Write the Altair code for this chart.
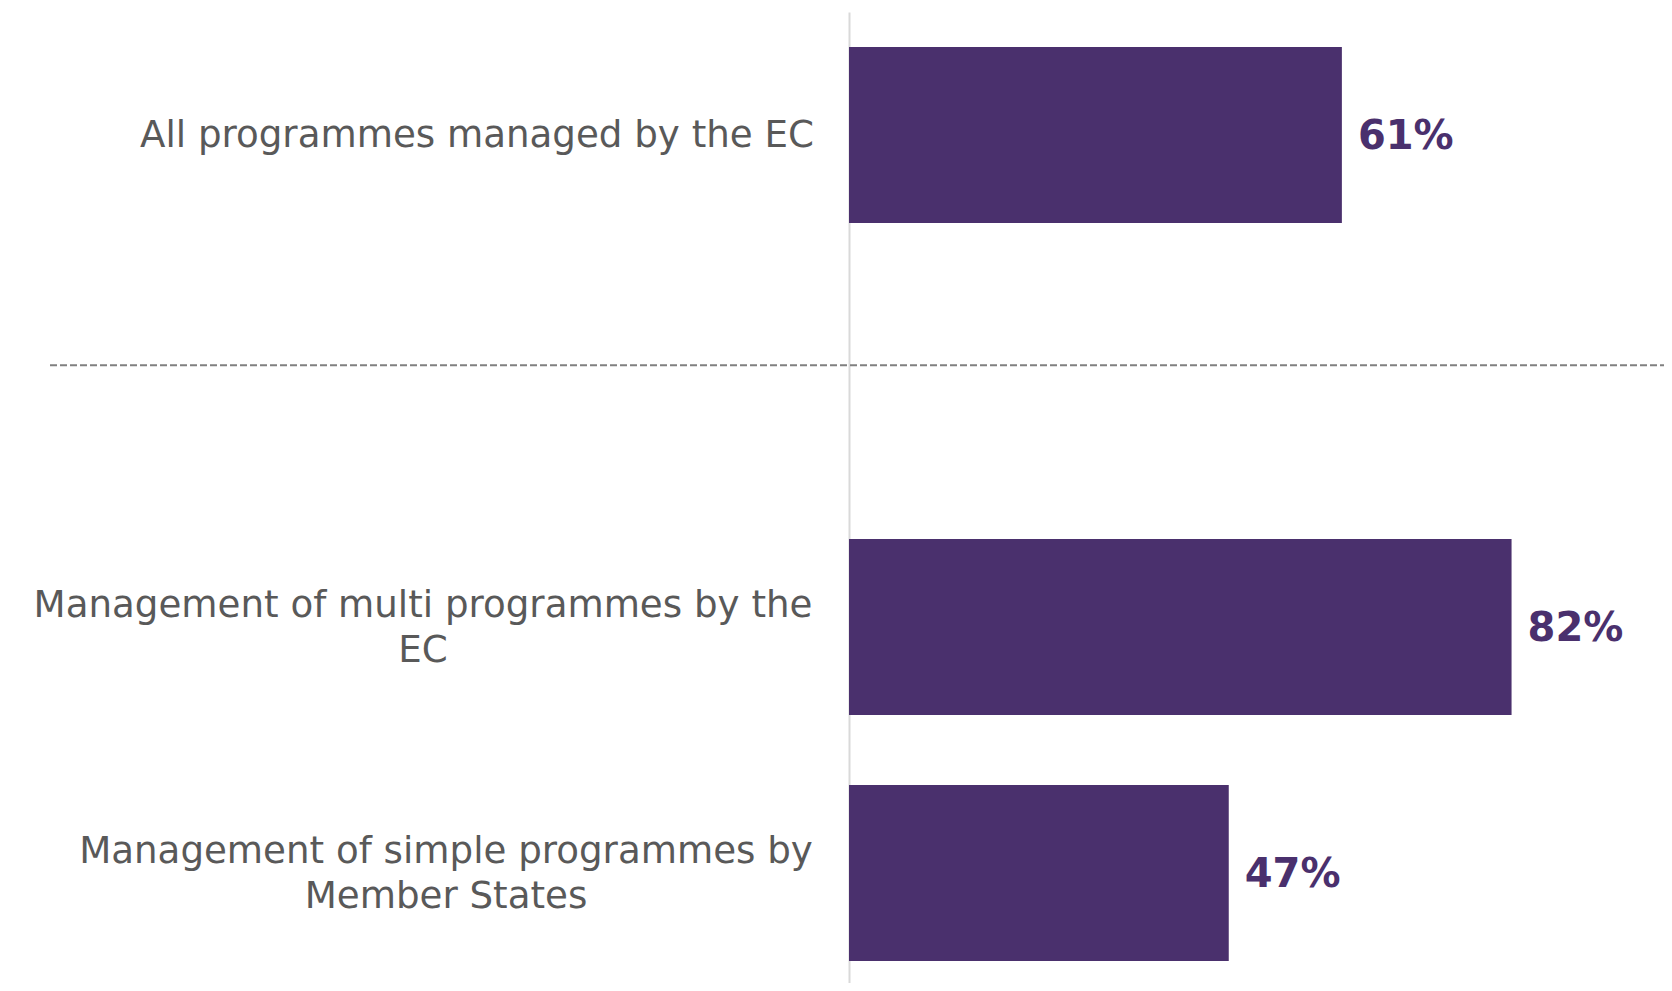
import altair as alt
import pandas as pd

# ---- data ----
categories = [
    "All programmes managed by the EC",
    "Management of multi programmes by the\nEC",
    "Management of simple programmes by\nMember States",
]
values = [61, 82, 47]
divider_slot = " "  # empty slot holding the dashed separator

slot_order = [categories[0], divider_slot, categories[1], categories[2]]

df = pd.DataFrame({"category": categories, "value": values})
df["label"] = [f"{v}%" for v in values]
div_df = pd.DataFrame({"category": [divider_slot]})

# ---- style ----
PURPLE = "#4a306d"
GRAY_TEXT = "#595959"
FONT = "DejaVu Sans"
FS = 37.2
LH = 45

yscale = alt.Scale(domain=slot_order, range=[0, 984], paddingInner=0.285, paddingOuter=0.1425)
xscale = alt.Scale(domain=[0, 100])
yaxis = alt.Axis(labels=False, ticks=False, title=None, grid=False,
                 domainColor="#d9d9d9", domainWidth=2)


def Y(**kw):
    return alt.Y("category:N", scale=yscale, axis=yaxis, **kw)


base = alt.Chart(df)

bars = base.mark_bar(color=PURPLE).encode(
    x=alt.X("value:Q", scale=xscale, axis=None),
    y=Y(),
)

values_txt = base.mark_text(align="left", baseline="middle", dx=16, dy=2, fontSize=40,
                            fontWeight="bold", color=PURPLE, font=FONT).encode(
    x=alt.X("value:Q", scale=xscale, axis=None),
    y=Y(),
    text="label:N",
)


def cat_label(cat, align, xpos):
    n_lines = cat.count("\n") + 1
    return base.transform_filter(
        alt.datum.category == cat
    ).transform_calculate(
        lines="split(datum.category, '\\n')"
    ).mark_text(align=align, baseline="middle", fontSize=FS, color=GRAY_TEXT,
                font=FONT, lineHeight=LH, dy=1 - (n_lines - 1) * LH / 2).encode(
        x=alt.value(xpos),
        y=Y(),
        text="lines:N",
    )


lab1 = cat_label(categories[0], "right", -35)
lab2 = cat_label(categories[1], "center", -426)
lab3 = cat_label(categories[2], "center", -403)

divider = alt.Chart(div_df).mark_rule(strokeDash=[7, 3], color="#808080", strokeWidth=2).encode(
    y=Y(bandPosition=0.41),
    x=alt.value(-799),
    x2=alt.value(830),
)

chart = alt.layer(bars, divider, values_txt, lab1, lab2, lab3).properties(
    width=808,
    height=971,
    autosize=alt.AutoSizeParams(type="none"),
    padding={"left": 841, "top": 4, "right": 7, "bottom": 0},
).configure_view(stroke=None)

chart.save("out.html", embed_options={"renderer": "svg", "actions": False})
